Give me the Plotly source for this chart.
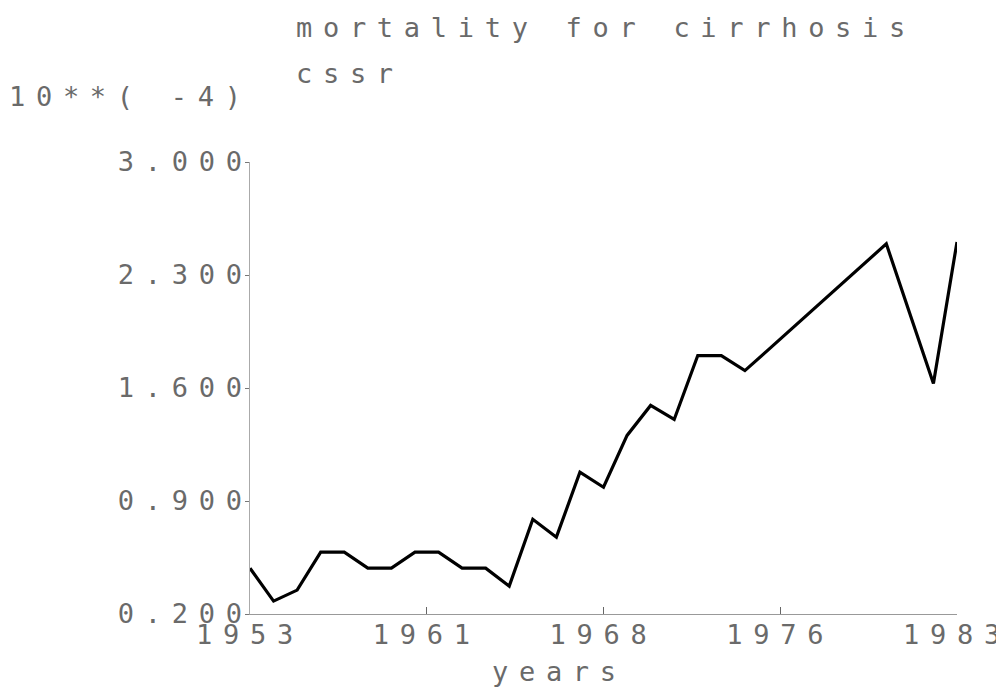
import plotly.graph_objects as go

# ---- data ----
years = [1953, 1954, 1955, 1956, 1957, 1958, 1959, 1960, 1961, 1962,
         1963, 1964, 1965, 1966, 1967, 1968, 1969, 1970, 1971, 1972,
         1973, 1974, 1975, 1976, 1977, 1978, 1979, 1980, 1981, 1982, 1983]
mortality = [0.484, 0.280, 0.348, 0.583, 0.583, 0.484, 0.484, 0.583, 0.583, 0.484,
             0.484, 0.373, 0.787, 0.676, 1.078, 0.985, 1.306, 1.492, 1.405, 1.801,
             1.801, 1.708, 1.838, 1.968, 2.097, 2.233, 2.363, 2.493, 2.060, 1.628, 2.505]

x_tickvals = [1953, 1960.5, 1968, 1975.5, 1983]
x_ticktext = ["1953", "1961", "1968", "1976", "1983"]
y_tickvals = [0.2, 0.9, 1.6, 2.3, 3.0]
y_ticktext = ["0.200", "0.900", "1.600", "2.300", "3.000"]

title_line1 = "mortality for cirrhosis"
title_line2 = "cssr"
y_label = "10**( -4)"
x_label = "years"

# ---- styling ----
# the page body has a default 8px margin, so the figure is drawn 8px in
OFF = 8
W, H = 1004 - OFF, 688 - OFF
L, T = 250 - OFF, 162 - OFF
PW, PH = 707, 452
R, B = W - L - PW, H - T - PH
FONT = "DejaVu Sans Mono"
FSIZE = 27
TXT = "#6a6a6a"
SPACING = "10.7px"


def sp(s):
    return f'<span style="letter-spacing:{SPACING}">{s}</span>'


def px_x(x):  # x in screenshot pixels -> paper coords
    return (x - OFF - L) / PW


def px_y(y):  # y in screenshot pixels -> paper coords
    return (T + PH - (y - OFF)) / PH


fig = go.Figure()
fig.add_trace(go.Scatter(
    x=years, y=mortality, mode="lines",
    line=dict(color="black", width=3.2),
    hoverinfo="skip", showlegend=False,
))

font = dict(family=FONT, size=FSIZE, color=TXT)

annotations = [
    dict(text=sp(title_line1), x=px_x(294), y=px_y(27), xanchor="left", yanchor="middle"),
    dict(text=sp(title_line2), x=px_x(294), y=px_y(73), xanchor="left", yanchor="middle"),
    dict(text=sp(y_label), x=px_x(7), y=px_y(97), xanchor="left", yanchor="middle"),
    dict(text=sp(x_label), x=px_x(490), y=px_y(671), xanchor="left", yanchor="middle"),
]
for a in annotations:
    a.update(xref="paper", yref="paper", showarrow=False, font=font)

fig.update_layout(
    width=W, height=H,
    margin=dict(l=L, r=R, t=T, b=B, pad=0, autoexpand=False),
    paper_bgcolor="white", plot_bgcolor="white",
    annotations=annotations,
    xaxis=dict(
        range=[1953, 1983], tickmode="array", tickvals=x_tickvals,
        ticktext=[sp(t) for t in x_ticktext],
        ticks="inside", ticklen=7, tickcolor="#666", tickwidth=1,
        showline=True, linecolor="#999", linewidth=1,
        showgrid=False, zeroline=False, automargin=False,
        tickfont=font, ticklabelstandoff=-3, ticklabeloverflow="allow",
    ),
    yaxis=dict(
        range=[0.2, 3.0], tickmode="array", tickvals=y_tickvals,
        ticktext=[sp(t) for t in y_ticktext],
        ticks="outside", ticklen=4, tickcolor="#777", tickwidth=1,
        showline=True, linecolor="#aaa", linewidth=1,
        showgrid=False, zeroline=False, automargin=False,
        tickfont=font, ticklabelstandoff=-13, ticklabeloverflow="allow",
    ),
)

fig.write_html("out.html")
